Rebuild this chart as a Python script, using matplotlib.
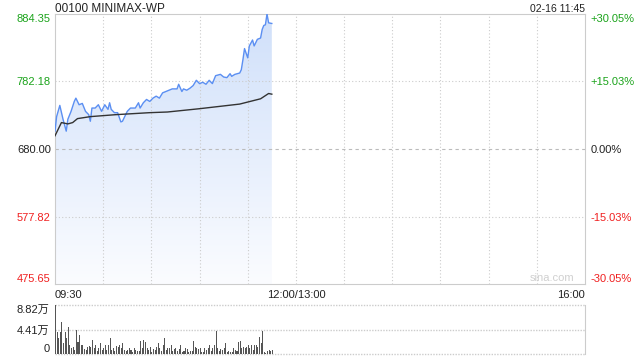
import numpy as np
import matplotlib
matplotlib.use('Agg')
import matplotlib.pyplot as plt
from matplotlib.colors import LinearSegmentedColormap

plt.rcParams['font.family'] = ['Liberation Sans', 'Noto Sans CJK SC', 'DejaVu Sans']

# price readings (minutes after 09:30, price)
price_min = [0, 1, 3, 5, 7, 8, 10, 12, 13, 15, 17, 19, 21, 22, 23, 25, 27, 29, 31, 33,
             34, 35, 37, 39, 41, 42, 45, 47, 50, 52, 53, 55, 57, 59, 61, 63, 65, 67, 69, 73,
             76, 77, 79, 80, 82, 84, 86, 88, 90, 92, 94, 96, 98, 100, 103, 105, 107, 109, 110, 112,
             115, 116, 117, 118, 120, 121, 123, 124, 126, 128, 129, 130, 131, 132, 133, 135]
price = [707, 729, 746, 725, 707, 725, 737, 752, 757, 747, 749, 737, 732, 722, 742, 742, 747, 737, 747, 740,
         750, 740, 735, 735, 721, 722, 737, 742, 742, 750, 742, 750, 755, 752, 757, 760, 757, 765, 767, 771,
         771, 778, 767, 771, 769, 772, 776, 784, 779, 781, 778, 784, 779, 791, 793, 789, 788, 794, 790, 793,
         795, 800, 815, 832, 818, 836, 845, 836, 846, 848, 861, 867, 868, 884.35, 871, 870]

avg_min = [0, 4, 8, 11, 14, 22, 38, 59, 70, 90, 115, 128, 133, 135]
avg_price = [700, 720, 718, 720, 726, 729, 732, 735, 736, 741, 748, 756, 764, 763]

# volume per minute, in 万
volume = [8.82, 4.0, 2.8, 4.0, 5.8, 1.9, 3.9, 2.8, 4.9, 1.6, 1.0, 1.3, 0.7, 4.4, 2.2, 3.4, 1.7, 1.6, 0.9, 0.7,
          1.3, 1.4, 1.3, 2.5, 1.0, 1.7, 0.5, 1.0, 1.9, 0.8, 1.0, 1.7, 0.7, 1.6, 2.9, 0.7, 1.0, 0.5, 1.5, 1.3,
          1.6, 1.1, 1.9, 0.8, 0.5, 0.7, 1.1, 0.7, 0.4, 1.0, 0.8, 0.5, 0.6, 2.3, 1.0, 2.5, 2.2, 1.0, 0.7, 1.3,
          0.4, 0.9, 0.7, 1.3, 1.9, 1.0, 0.6, 1.6, 2.9, 0.7, 1.1, 1.1, 1.7, 0.5, 0.9, 1.0, 0.5, 0.9, 1.7, 0.3,
          0.5, 1.0, 0.9, 0.3, 0.5, 0.5, 2.3, 1.3, 1.0, 0.9, 1.0, 0.3, 0.4, 1.0, 0.7, 1.0, 1.6, 0.5, 1.0, 1.6,
          4.1, 1.1, 0.5, 0.9, 0.8, 1.0, 2.0, 0.4, 0.5, 0.4, 0.3, 1.0, 0.7, 0.5, 2.2, 2.3, 1.0, 1.3, 1.1, 1.3,
          1.6, 1.1, 1.7, 0.7, 1.7, 1.7, 1.3, 3.1, 1.9, 4.1, 0.4, 0.1, 0.6, 0.8, 0.5, 0.7]

price_ticks = [475.65, 577.82, 680.00, 782.18, 884.35]
prev_close = 680.00
vol_ticks = [0, 4.41, 8.82]
vol_labels = ['0', '4.41万', '8.82万']
time_ticks = [0, 150, 330]
time_labels = ['09:30', '12:00/13:00', '16:00']

fig = plt.figure(figsize=(6.4, 3.6), dpi=100)
ax = fig.add_axes([55 / 640, 1 - 284 / 360, 530 / 640, 270 / 360])
axv = fig.add_axes([55 / 640, 1 - 354 / 360, 530 / 640, 49 / 360])

# gradient fill under price line
cmap = LinearSegmentedColormap.from_list('fill', ['#fbfcff', '#d0e0fa'])
poly = ax.fill_between(price_min, price, price_ticks[0], color='none')
grad = np.linspace(0, 1, 256).reshape(-1, 1)
img = ax.imshow(grad, extent=[0, 135, price_ticks[0], max(price)], origin='lower',
                cmap=cmap, aspect='auto', zorder=1)
img.set_clip_path(poly.get_paths()[0], transform=ax.transData)

ax.plot(price_min, price, color='#5b8ff2', lw=1, zorder=3)
ax.plot(avg_min, avg_price, color='#333333', lw=1, zorder=3)

ax.set_xlim(0, 330)
ax.set_ylim(price_ticks[0], price_ticks[-1])

for m in range(30, 330, 30):
    ax.axvline(m, color='#cccccc', lw=0.8, ls=(0, (1, 2)), zorder=2)
for p in price_ticks[1:-1]:
    if p == prev_close:
        ax.axhline(p, color='#bbbbbb', lw=0.8, ls=(0, (3, 3)), zorder=2)
    else:
        ax.axhline(p, color='#cccccc', lw=0.8, ls=(0, (1, 2)), zorder=2)

for s in ax.spines.values():
    s.set_color('#cccccc')

ax.set_yticks(price_ticks)
ax.set_yticklabels(['%.2f' % p for p in price_ticks], fontsize=8)
ax.tick_params(axis='y', length=0, pad=3)
colors = ['#f02020', '#f02020', '#222222', '#1aa31a', '#1aa31a']
labs = ax.get_yticklabels()
for lab, c in zip(labs, colors):
    lab.set_color(c)
labs[0].set_va('bottom')
labs[-1].set_va('top')

axr = ax.twinx()
axr.set_ylim(ax.get_ylim())
axr.set_yticks(price_ticks)
pct = [(p - prev_close) / prev_close * 100 for p in price_ticks]
axr.set_yticklabels([('+%.2f%%' % v if v > 0 else '%.2f%%' % v) for v in pct], fontsize=8)
axr.tick_params(axis='y', length=0, pad=4)
rlabs = axr.get_yticklabels()
for lab, c in zip(rlabs, colors):
    lab.set_color(c)
rlabs[0].set_va('bottom')
rlabs[-1].set_va('top')
for s in axr.spines.values():
    s.set_visible(False)

ax.set_xticks(time_ticks)
ax.set_xticklabels(time_labels, fontsize=8, color='#222222')
ax.tick_params(axis='x', length=0, pad=4)
xl = ax.get_xticklabels()
xl[0].set_ha('left')
xl[-1].set_ha('right')

ax.text(0, 1 + 2.5 / 270, '00100 MINIMAX-WP', transform=ax.transAxes, fontsize=8.5,
        color='#222222', ha='left', va='baseline')
ax.text(1, 1 + 2.5 / 270, '02-16 11:45', transform=ax.transAxes, fontsize=7.5,
        color='#222222', ha='right', va='baseline')
ax.text(0.98, 0.002, 'sina.com', transform=ax.transAxes, fontsize=8,
        color='#d0d0d0', ha='right', va='bottom')

# volume panel
axv.bar(range(len(volume)), volume, width=0.65, align='edge', color='#555555', zorder=2)
axv.set_xlim(0, 330)
axv.set_ylim(0, vol_ticks[-1])
for v in vol_ticks:
    axv.axhline(v, color='#cccccc', lw=1, ls=(0, (1, 1)), zorder=0, clip_on=False)
for name, s in axv.spines.items():
    if name == 'right':
        s.set_color('#cccccc')
    else:
        s.set_visible(False)
axv.set_xticks([])
axv.set_yticks(vol_ticks)
axv.set_yticklabels(vol_labels, fontsize=8, color='#222222')
axv.tick_params(axis='y', length=0, pad=4)
vl = axv.get_yticklabels()
vl[0].set_va('bottom')
vl[-1].set_va('top')

fig.savefig('out.png', dpi=100)
